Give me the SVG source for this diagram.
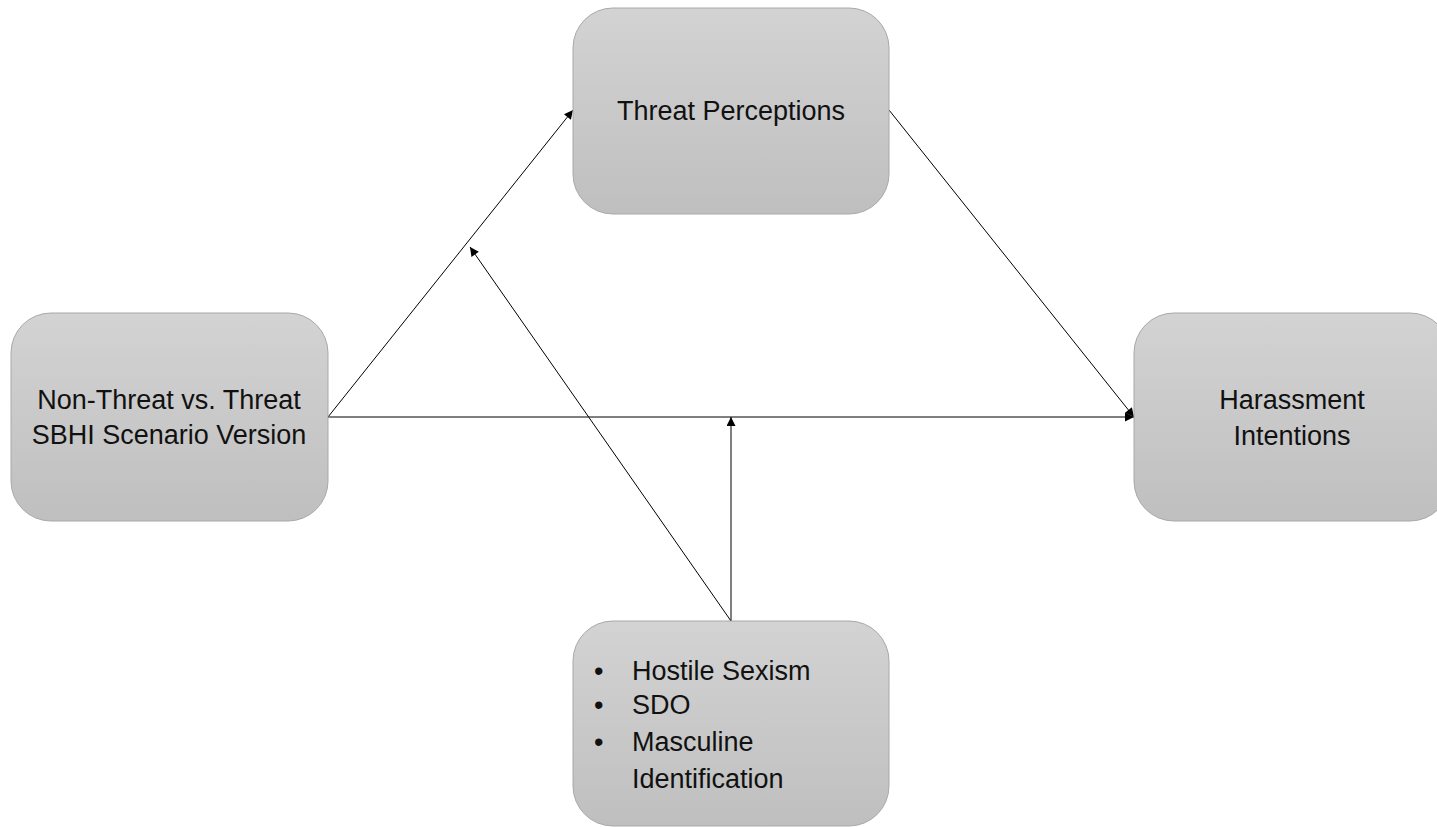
<svg xmlns="http://www.w3.org/2000/svg" width="1437" height="827" viewBox="0 0 1437 827">
<defs>
<linearGradient id="g" x1="0" y1="0" x2="0" y2="1">
<stop offset="0" stop-color="#d3d3d3"/>
<stop offset="1" stop-color="#bfbfbf"/>
</linearGradient>
<marker id="ah" viewBox="0 0 10 10" refX="10" refY="5" markerWidth="11" markerHeight="9" markerUnits="userSpaceOnUse" orient="auto">
<path d="M0,0 L10,5 L0,10 z" fill="#000"/>
</marker>
</defs>
<style>
.box{fill:url(#g);stroke:#a8a8a8;stroke-width:1}
.t{font-family:"Liberation Sans",Arial,sans-serif;font-size:27px;fill:#111}
.c{text-anchor:middle}
.ln{stroke:#000;stroke-width:1;fill:none;marker-end:url(#ah)}
</style>
<rect width="1437" height="827" fill="#fff"/>
<g id="connectors">
<line class="ln" x1="328" y1="417" x2="573" y2="110"/>
<line class="ln" x1="889" y1="110" x2="1134" y2="417"/>
<line class="ln" x1="328" y1="417" x2="1134" y2="417"/>
<line class="ln" x1="731" y1="621" x2="731" y2="417"/>
<line class="ln" x1="731" y1="621" x2="470" y2="247"/>
</g>
<g id="threat">
<rect class="box" x="573" y="8" width="316" height="206" rx="40"/>
<text class="t c" x="731" y="120">Threat Perceptions</text>
</g>
<g id="version">
<rect class="box" x="11" y="313" width="317" height="208" rx="40"/>
<text class="t c" x="169" y="409">Non-Threat vs. Threat</text>
<text class="t c" x="169" y="444">SBHI Scenario Version</text>
</g>
<g id="harassment">
<rect class="box" x="1134" y="313" width="316" height="208" rx="40"/>
<text class="t c" x="1292" y="409">Harassment</text>
<text class="t c" x="1292" y="445">Intentions</text>
</g>
<g id="moderators">
<rect class="box" x="573" y="621" width="316" height="205" rx="40"/>
<text class="t" x="594" y="680">•</text>
<text class="t" x="632" y="680">Hostile Sexism</text>
<text class="t" x="594" y="714">•</text>
<text class="t" x="632" y="714">SDO</text>
<text class="t" x="594" y="751">•</text>
<text class="t" x="632" y="751">Masculine</text>
<text class="t" x="632" y="788">Identification</text>
</g>
</svg>
